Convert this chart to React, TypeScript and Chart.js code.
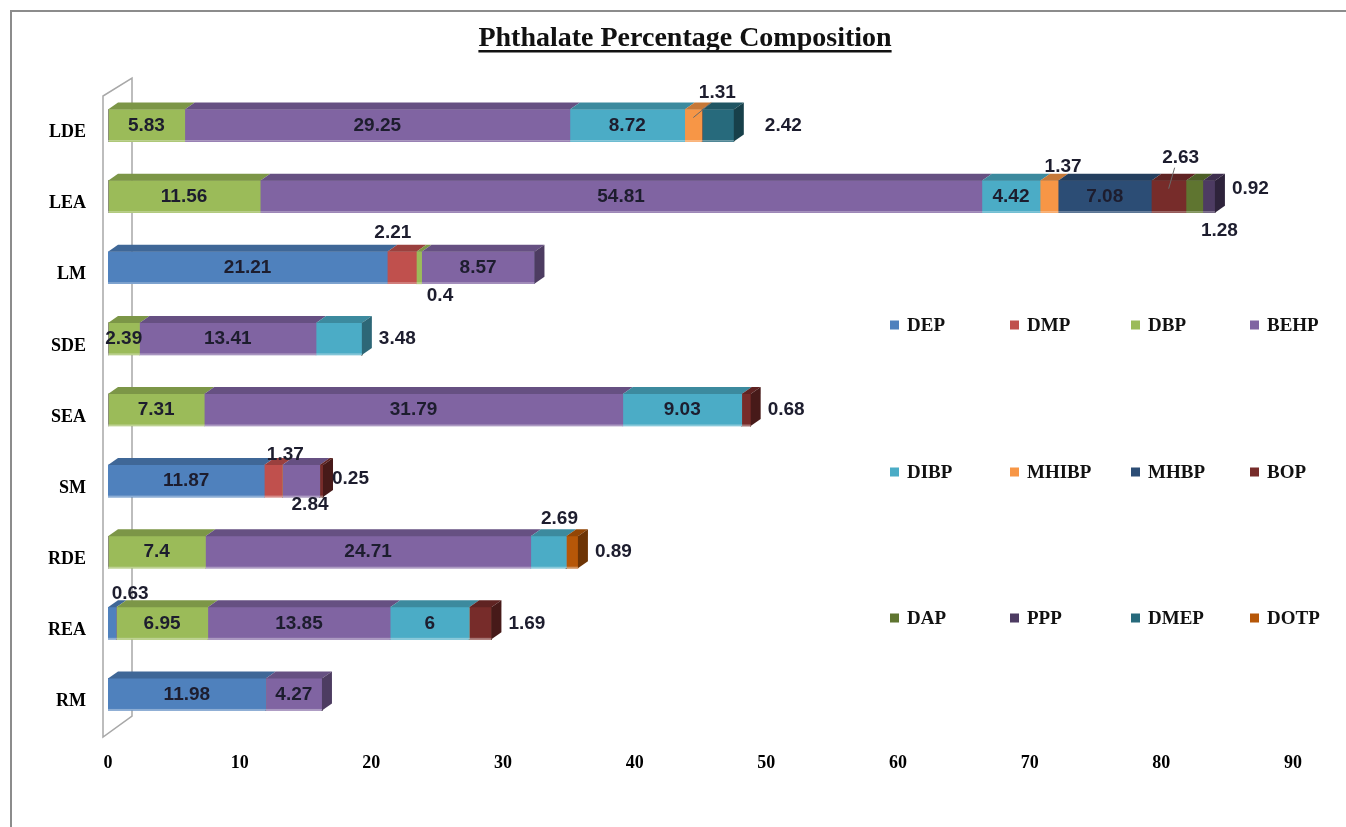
import React, { useEffect, useRef } from "react";
import { Chart, registerables } from "chart.js";

Chart.register(...registerables);

// ---- data ----
const CATEGORIES = ["LDE", "LEA", "LM", "SDE", "SEA", "SM", "RDE", "REA", "RM"];

const SERIES_NAMES = ["DEP", "DMP", "DBP", "BEHP", "DIBP", "MHIBP", "MHBP", "BOP", "DAP", "PPP", "DMEP", "DOTP"];

const DEP = [0, 0, 21.21, 0, 0, 11.87, 0, 0.63, 11.98];
const DMP = [0, 0, 2.21, 0, 0, 1.37, 0, 0, 0];
const DBP = [5.83, 11.56, 0.4, 2.39, 7.31, 0, 7.4, 6.95, 0];
const BEHP = [29.25, 54.81, 8.57, 13.41, 31.79, 2.84, 24.71, 13.85, 4.27];
const DIBP = [8.72, 4.42, 0, 3.48, 9.03, 0, 2.69, 6, 0];
const MHIBP = [1.31, 1.37, 0, 0, 0, 0, 0, 0, 0];
const MHBP = [0, 7.08, 0, 0, 0, 0, 0, 0, 0];
const BOP = [0, 2.63, 0, 0, 0.68, 0.25, 0, 1.69, 0];
const DAP = [0, 1.28, 0, 0, 0, 0, 0, 0, 0];
const PPP = [0, 0.92, 0, 0, 0, 0, 0, 0, 0];
const DMEP = [2.42, 0, 0, 0, 0, 0, 0, 0, 0];
const DOTP = [0, 0, 0, 0, 0, 0, 0.89, 0, 0];

const SERIES_VALUES = [DEP, DMP, DBP, BEHP, DIBP, MHIBP, MHBP, BOP, DAP, PPP, DMEP, DOTP];

const X_MIN = 0;
const X_MAX = 90;
const X_STEP = 10;

// ---- styling ----
const SERIES_COLORS = [
  "#4F81BD", "#C0504D", "#9BBB59", "#8064A2",
  "#4BACC6", "#F79646", "#2C4D75", "#772C2A",
  "#5F7530", "#4D3B62", "#276A7C", "#B65708",
];

const SERIF = '"Liberation Serif", "Times New Roman", serif';
const SANS = '"Liberation Sans", Arial, sans-serif';
const LABEL_COLOR = "#1d1d2e";

const DEPTH_X = 10;
const DEPTH_Y = 7;
const BAR_THICKNESS = 32;

type Placement = { pos: "in" | "right" | "above" | "below"; dx?: number; dy?: number; leader?: boolean };

// where each value label sits relative to its segment (default: inside)
const LABEL_PLACEMENT: Record<string, Placement> = {
  "LDE|MHIBP": { pos: "above", dx: 24, dy: 0, leader: true },
  "LDE|DMEP": { pos: "right", dx: 14 },
  "LEA|MHIBP": { pos: "above", dx: 14, dy: 3 },
  "LEA|BOP": { pos: "above", dx: 12, dy: -6, leader: true },
  "LEA|DAP": { pos: "below", dx: 25, dy: 6 },
  "LEA|PPP": { pos: "right", dx: 0, dy: -8 },
  "LM|DMP": { pos: "above", dx: -9, dy: -2 },
  "LM|DBP": { pos: "below", dx: 21 },
  "SDE|DIBP": { pos: "right" },
  "SEA|BOP": { pos: "right" },
  "SM|DMP": { pos: "above", dx: 12, dy: 7 },
  "SM|BEHP": { pos: "below", dx: 9, dy: -4 },
  "SM|BOP": { pos: "right", dx: -8, dy: -2 },
  "RDE|DIBP": { pos: "above", dx: 11 },
  "RDE|DOTP": { pos: "right" },
  "REA|DEP": { pos: "above", dx: 18, dy: 3 },
  "REA|BOP": { pos: "right" },
};

function shade(hex: string, f: number): string {
  const n = parseInt(hex.slice(1), 16);
  const r = Math.round(((n >> 16) & 255) * f);
  const g = Math.round(((n >> 8) & 255) * f);
  const b = Math.round((n & 255) * f);
  return `rgb(${r},${g},${b})`;
}

function segmentBox(chart: any, di: number, ci: number) {
  const el = chart.getDatasetMeta(di).data[ci];
  const p = el.getProps(["x", "y", "base", "height"], true);
  const left = Math.min(p.x, p.base);
  const right = Math.max(p.x, p.base);
  return { left, right, top: p.y - p.height / 2, bottom: p.y + p.height / 2, cy: p.y };
}

// side wall drawn behind the bars
const wallPlugin = {
  id: "sideWall",
  beforeDatasetsDraw(chart: any) {
    const { ctx, chartArea, scales } = chart;
    const fx = scales.x.getPixelForValue(0) - 5;
    const top = chartArea.top + 6;
    const bottom = chartArea.bottom + 7;
    const bx = fx + 29;
    ctx.save();
    ctx.strokeStyle = "#a8a8a8";
    ctx.lineWidth = 1.5;
    ctx.beginPath();
    ctx.moveTo(fx, top);
    ctx.lineTo(fx, bottom);
    ctx.lineTo(bx, bottom - 21);
    ctx.lineTo(bx, top - 18);
    ctx.closePath();
    ctx.stroke();
    ctx.restore();
  },
};

// top / side faces of the bars and the value labels
const barDepthPlugin = {
  id: "barDepth",
  afterDatasetsDraw(chart: any) {
    const { ctx } = chart;
    const nSeries = chart.data.datasets.length;
    ctx.save();
    for (let ci = 0; ci < CATEGORIES.length; ci++) {
      let last = -1;
      for (let di = 0; di < nSeries; di++) if (SERIES_VALUES[di][ci] > 0) last = di;
      for (let di = 0; di < nSeries; di++) {
        if (!(SERIES_VALUES[di][ci] > 0)) continue;
        const b = segmentBox(chart, di, ci);
        const col = SERIES_COLORS[di];
        ctx.fillStyle = shade(col, 0.8);
        ctx.beginPath();
        ctx.moveTo(b.left, b.top);
        ctx.lineTo(b.left + DEPTH_X, b.top - DEPTH_Y);
        ctx.lineTo(b.right + DEPTH_X, b.top - DEPTH_Y);
        ctx.lineTo(b.right, b.top);
        ctx.closePath();
        ctx.fill();
        if (di === last) {
          ctx.fillStyle = shade(col, 0.6);
          ctx.beginPath();
          ctx.moveTo(b.right, b.top);
          ctx.lineTo(b.right + DEPTH_X, b.top - DEPTH_Y);
          ctx.lineTo(b.right + DEPTH_X, b.bottom - DEPTH_Y);
          ctx.lineTo(b.right, b.bottom);
          ctx.closePath();
          ctx.fill();
        }
        // faint light edge along the bottom of the front face
        ctx.fillStyle = "rgba(255,255,255,0.35)";
        ctx.fillRect(b.left, b.bottom - 1.5, b.right - b.left, 1.5);
      }
    }

    // value labels
    ctx.font = `bold 19px ${SANS}`;
    ctx.fillStyle = LABEL_COLOR;
    ctx.textBaseline = "middle";
    for (let ci = 0; ci < CATEGORIES.length; ci++) {
      let last = -1;
      for (let di = 0; di < nSeries; di++) if (SERIES_VALUES[di][ci] > 0) last = di;
      const stackEnd = last >= 0 ? segmentBox(chart, last, ci).right : 0;
      for (let di = 0; di < nSeries; di++) {
        const v = SERIES_VALUES[di][ci];
        if (!(v > 0)) continue;
        const b = segmentBox(chart, di, ci);
        const pl = LABEL_PLACEMENT[`${CATEGORIES[ci]}|${SERIES_NAMES[di]}`] || { pos: "in" };
        const dx = pl.dx || 0;
        const dy = pl.dy || 0;
        const text = String(v);
        const cx = (b.left + b.right) / 2;
        let tx = cx;
        let ty = b.cy;
        if (pl.pos === "in") {
          ctx.textAlign = "center";
        } else if (pl.pos === "right") {
          ctx.textAlign = "left";
          tx = stackEnd + DEPTH_X + 7 + dx;
          ty = b.cy + dy;
        } else if (pl.pos === "above") {
          ctx.textAlign = "center";
          tx = cx + dx;
          ty = b.top - DEPTH_Y - 10 + dy;
        } else {
          ctx.textAlign = "center";
          tx = cx + dx;
          ty = b.bottom + 12 + dy;
        }
        if (pl.leader) {
          ctx.save();
          ctx.strokeStyle = "#6a6a6a";
          ctx.lineWidth = 1;
          ctx.beginPath();
          ctx.moveTo(cx, b.top + 8);
          ctx.lineTo(tx - 6, ty + 10);
          ctx.stroke();
          ctx.restore();
        }
        ctx.fillText(text, tx, ty);
      }
    }
    ctx.restore();
  },
};

// title, legend and outer frame
const decorPlugin = {
  id: "decor",
  afterDraw(chart: any) {
    const { ctx } = chart;
    ctx.save();
    // frame
    ctx.strokeStyle = "#8c8c8c";
    ctx.lineWidth = 2;
    ctx.beginPath();
    ctx.moveTo(11, chart.height);
    ctx.lineTo(11, 11);
    ctx.lineTo(chart.width, 11);
    ctx.stroke();

    // title
    const title = "Phthalate Percentage Composition";
    ctx.font = `bold 28px ${SERIF}`;
    ctx.fillStyle = "#111";
    ctx.textAlign = "center";
    ctx.textBaseline = "alphabetic";
    const tx = 685;
    const ty = 46;
    ctx.fillText(title, tx, ty);
    const w = ctx.measureText(title).width;
    ctx.fillRect(tx - w / 2, ty + 4, w, 2.5);

    // legend: 4 columns x 3 rows
    const colX = [890, 1010, 1131, 1250];
    const rowY = [325, 472, 618];
    ctx.font = `bold 19px ${SERIF}`;
    ctx.textAlign = "left";
    ctx.textBaseline = "middle";
    SERIES_NAMES.forEach((name, i) => {
      const x = colX[i % 4];
      const y = rowY[Math.floor(i / 4)];
      ctx.fillStyle = SERIES_COLORS[i];
      ctx.fillRect(x, y - 4.5, 9, 9);
      ctx.fillStyle = "#111";
      ctx.fillText(name, x + 17, y + 1);
    });
    ctx.restore();
  },
};

export default function App() {
  const canvasRef = useRef<HTMLCanvasElement | null>(null);

  useEffect(() => {
    document.body.style.margin = "0";
    const canvas = canvasRef.current;
    if (!canvas) return;
    const chart = new Chart(canvas, {
      type: "bar",
      data: {
        labels: CATEGORIES,
        datasets: SERIES_NAMES.map((name, i) => ({
          label: name,
          data: SERIES_VALUES[i],
          backgroundColor: SERIES_COLORS[i],
          borderWidth: 0,
          barThickness: BAR_THICKNESS,
        })),
      },
      options: {
        indexAxis: "y",
        responsive: false,
        animation: false,
        layout: { padding: { top: 90, right: 53, left: 0, bottom: 0 } },
        plugins: {
          legend: { display: false },
          title: { display: false },
          tooltip: { enabled: false },
        },
        scales: {
          x: {
            stacked: true,
            min: X_MIN,
            max: X_MAX,
            ticks: {
              stepSize: X_STEP,
              padding: 23,
              color: "#000",
              font: { family: SERIF, size: 18, weight: "bold" },
            },
            grid: { display: false, drawTicks: false },
            border: { display: false },
            afterFit: (s: any) => {
              s.height = 97;
            },
          },
          y: {
            stacked: true,
            ticks: {
              padding: 22,
              labelOffset: 7,
              color: "#000",
              font: { family: SERIF, size: 18, weight: "bold" },
            },
            grid: { display: false, drawTicks: false },
            border: { display: false },
            afterFit: (s: any) => {
              s.width = 108;
            },
          },
        },
      } as any,
      plugins: [wallPlugin, barDepthPlugin, decorPlugin],
    });
    return () => chart.destroy();
  }, []);

  return (
    <div style={{ position: "absolute", left: 0, top: 0, width: 1346, height: 827, background: "#fff" }}>
      <canvas ref={canvasRef} width={1346} height={827} style={{ display: "block" }} />
    </div>
  );
}
